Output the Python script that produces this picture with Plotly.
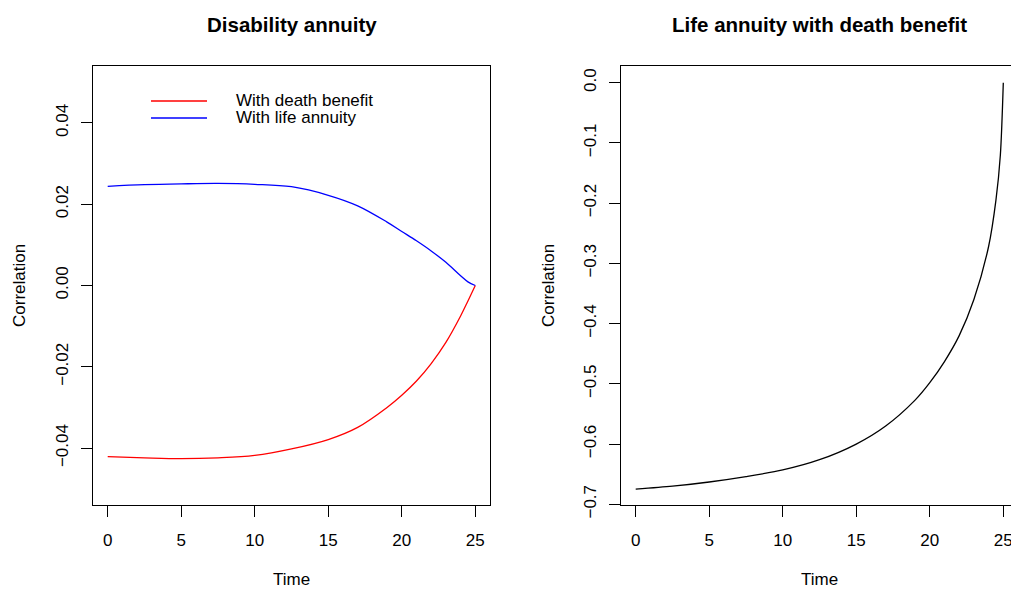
import plotly.graph_objects as go

# ---- data ----
time_left = [0, 2.5, 5, 7.5, 10, 12.5, 15, 17, 19, 20, 21, 22, 23, 24, 24.5, 25]
death_benefit = [-0.0421, -0.0424, -0.0426, -0.0424, -0.0418, -0.0402, -0.0379, -0.0349,
                 -0.0300, -0.0270, -0.0235, -0.0192, -0.0140, -0.0075, -0.0038, 0.0]
life_annuity = [0.0244, 0.0248, 0.0250, 0.0251, 0.0249, 0.0243, 0.0222, 0.0196,
                0.0156, 0.0133, 0.0110, 0.0085, 0.0057, 0.0024, 0.0009, 0.0]

time_right = [0, 2.5, 5, 7.5, 10, 12.5, 15, 17, 19, 20, 21, 22, 23, 24, 24.5, 24.8, 25]
life_with_death = [-0.675, -0.670, -0.663, -0.654, -0.643, -0.626, -0.600, -0.570, -0.527,
                   -0.498, -0.463, -0.420, -0.360, -0.272, -0.195, -0.120, 0.0]

x_ticks = [0, 5, 10, 15, 20, 25]
x_ticktext = ["0", "5", "10", "15", "20", "25"]
yl_ticks = [-0.04, -0.02, 0.0, 0.02, 0.04]
yl_ticktext = ["\u22120.04", "\u22120.02", "0.00", "0.02", "0.04"]
yr_ticks = [0.0, -0.1, -0.2, -0.3, -0.4, -0.5, -0.6, -0.7]
yr_ticktext = ["0.0", "\u22120.1", "\u22120.2", "\u22120.3", "\u22120.4", "\u22120.5", "\u22120.6", "\u22120.7"]

titles = ["Disability annuity", "Life annuity with death benefit"]
legend_labels = ["With death benefit", "With life annuity"]

# ---- layout geometry (pixels) ----
W, H = 1011, 590
FONT = "Liberation Sans, Arial, Helvetica, sans-serif"

def px(x):
    return x / W

def py(y):
    return 1 - y / H

fig = go.Figure()
fig.add_trace(go.Scatter(x=time_left, y=death_benefit, mode="lines", line=dict(color="#ff0000", width=1.3, shape="spline", smoothing=1.0),
                         xaxis="x", yaxis="y", name=legend_labels[0], showlegend=False))
fig.add_trace(go.Scatter(x=time_left, y=life_annuity, mode="lines", line=dict(color="#0000ff", width=1.3, shape="spline", smoothing=1.0),
                         xaxis="x", yaxis="y", name=legend_labels[1], showlegend=False))
fig.add_trace(go.Scatter(x=time_right, y=life_with_death, mode="lines", line=dict(color="#000000", width=1.3, shape="spline", smoothing=0.8),
                         xaxis="x2", yaxis="y2", showlegend=False))

axis_common = dict(showgrid=False, zeroline=False, showline=True, linecolor="black", linewidth=1.3,
                   ticks="outside", ticklen=11, tickwidth=1.3, tickcolor="black",
                   tickfont=dict(family=FONT, size=17, color="black"), tickmode="array",
                   ticklabeloverflow="allow", automargin=False)

top_px, bot_px = 66, 505
fig.update_layout(
    width=W, height=H, autosize=False,
    margin=dict(l=0, r=0, t=0, b=0, pad=0),
    paper_bgcolor="white", plot_bgcolor="white",
    font=dict(family=FONT, size=17, color="black"),
    xaxis=dict(axis_common, domain=[px(93), px(490)], range=[-1, 26], anchor="y", mirror=True,
               tickvals=x_ticks, ticktext=x_ticktext, ticklabelstandoff=8),
    yaxis=dict(axis_common, domain=[py(bot_px), py(top_px)], range=[-0.054, 0.054], anchor="x", mirror=True,
               tickvals=yl_ticks, ticktext=yl_ticktext, tickangle=-90, ticklabelstandoff=6),
    xaxis2=dict(axis_common, domain=[px(621), 1.0], range=[-1, -1 + (W - 621) * 27 / 397], anchor="y2", mirror=True,
                tickvals=x_ticks, ticktext=x_ticktext, ticklabelstandoff=8),
    yaxis2=dict(axis_common, domain=[py(bot_px), py(top_px)], range=[-0.7012, 0.0277], anchor="x2", mirror=False,
                tickvals=yr_ticks, ticktext=yr_ticktext, tickangle=-90, ticklabelstandoff=6),
)

annots = [
    dict(text="<b>%s</b>" % titles[0], x=px(291.5), y=py(24), size=20.5),
    dict(text="<b>%s</b>" % titles[1], x=px(819.5), y=py(24), size=20.5),
    dict(text="Time", x=px(291.5), y=py(579)),
    dict(text="Time", x=px(819.5), y=py(579)),
    dict(text="Correlation", x=px(19), y=py(286), textangle=-90),
    dict(text="Correlation", x=px(548), y=py(286), textangle=-90),
    dict(text=legend_labels[0], x=px(234), y=py(101), xanchor="left"),
    dict(text=legend_labels[1], x=px(234), y=py(118), xanchor="left"),
]
for a in annots:
    size = a.pop("size", 17)
    base = dict(xref="paper", yref="paper", showarrow=False, xanchor="center", yanchor="middle")
    base.update(a)
    base["font"] = dict(family=FONT, size=size, color="black")
    fig.add_annotation(**base)

for color, ypix in [("#ff0000", 101), ("#0000ff", 118)]:
    fig.add_shape(type="line", xref="paper", yref="paper", x0=px(151), x1=px(207), y0=py(ypix), y1=py(ypix),
                  line=dict(color=color, width=1.3))

post = ("document.body.style.margin='0';document.body.style.padding='0';"
        "document.body.style.overflow='hidden';"
        "document.documentElement.style.overflow='hidden';")

fig.write_html("out.html", config={"responsive": False, "displayModeBar": False}, post_script=post)
